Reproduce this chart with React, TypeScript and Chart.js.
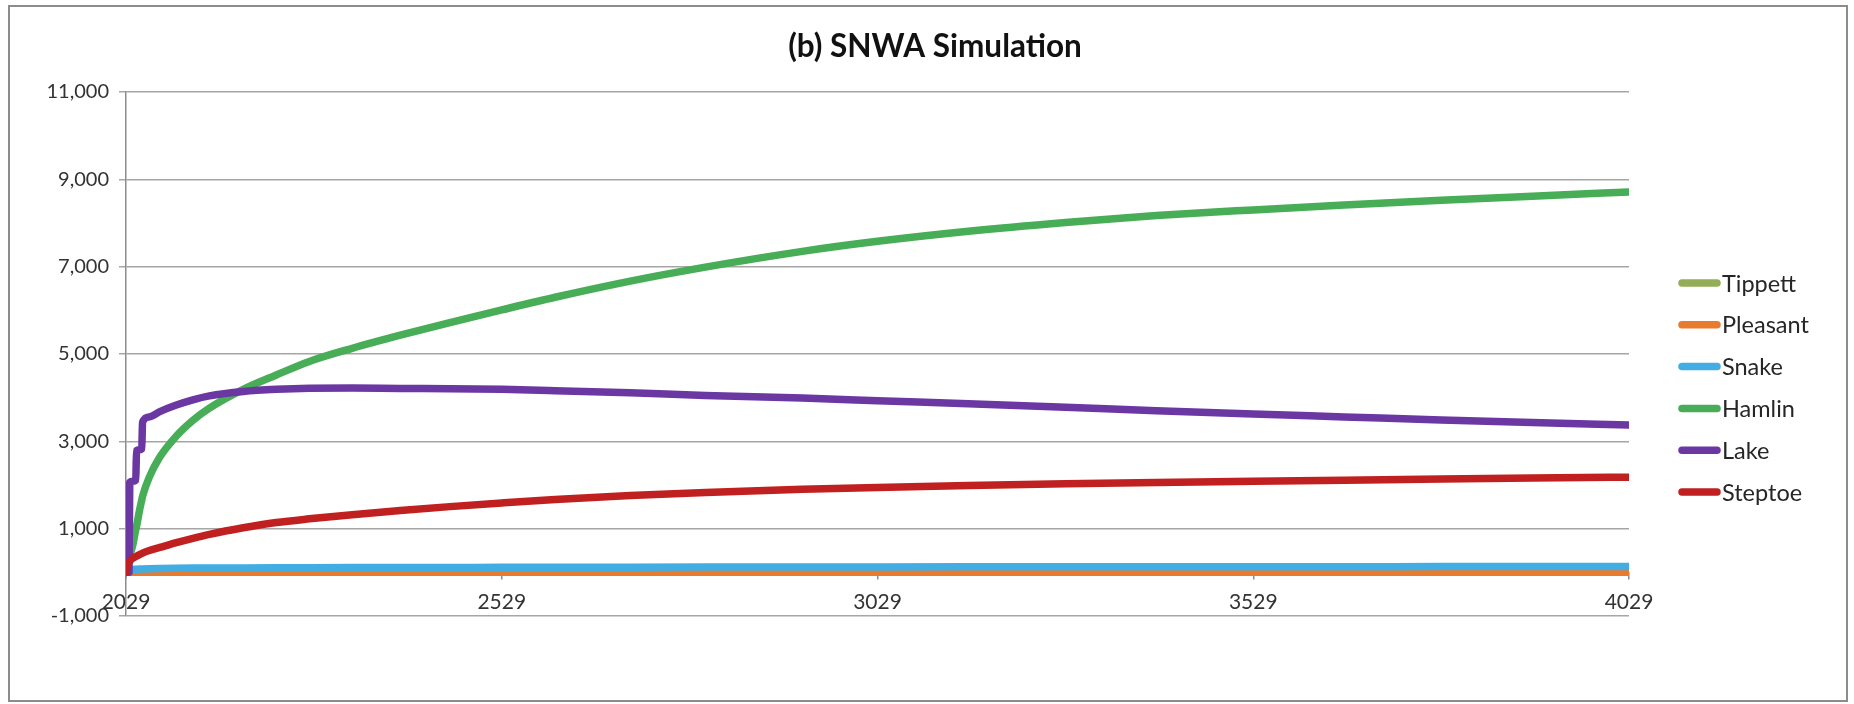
import React, { useEffect, useRef } from 'react';
import { Chart, registerables } from 'chart.js';

Chart.register(...registerables);

// Simulation years (irregular spacing: dense where the curves bend sharply)
const YEARS = [
  2029, 2031, 2033, 2034, 2038, 2042, 2043, 2047, 2050, 2051, 2060, 2074, 2096, 2118, 2140,
  2185, 2229, 2273, 2330, 2394, 2460, 2529, 2600, 2700, 2800, 2929, 3029, 3150, 3279, 3400,
  3529, 3650, 3779, 3900, 4029,
];

const TIPPETT = [
  0, 0, 0, 0, 0, 0, 0, 0, 0, 0, 0, 0, 0, 0, 0,
  0, 0, 0, 0, 0, 0, 0, 0, 0, 0, 0, 0, 0, 0, 0,
  0, 0, 0, 0, 0,
];

const PLEASANT = [
  0, 0, 0, 0, 0, 0, 0, 0, 0, 0, 0, 0, 0, 0, 0,
  0, 0, 0, 0, 0, 0, 0, 0, 0, 0, 0, 0, 0, 0, 0,
  0, 0, 0, 0, 0,
];

const SNAKE = [
  0, 40, 55, 60, 68, 72, 73, 76, 78, 79, 84, 89, 94, 97, 99,
  102, 104, 106, 108, 110, 112, 114, 116, 118, 120, 122, 124, 126, 127, 128,
  129, 130, 131, 132, 133,
];

const HAMLIN = [
  0, 160, 310, 380, 620, 980, 1050, 1420, 1660, 1740, 2180, 2640, 3120, 3480, 3760,
  4190, 4520, 4830, 5130, 5430, 5720, 6010, 6300, 6670, 6990, 7350, 7580, 7810, 8010, 8170,
  8300, 8410, 8520, 8615, 8710,
];

const LAKE = [
  0, 0, 0, 2060, 2085, 2110, 2790, 2810, 2830, 3440, 3560, 3680, 3830, 3950, 4040,
  4140, 4190, 4215, 4220, 4210, 4205, 4190, 4160, 4110, 4050, 3990, 3930, 3860, 3780, 3700,
  3625, 3560, 3490, 3430, 3375,
];

const STEPTOE = [
  0, 150, 230, 255, 320, 360, 370, 405, 430, 440, 500, 570, 680, 780, 870,
  1020, 1140, 1225, 1320, 1415, 1505, 1590, 1670, 1760, 1830, 1900, 1945, 1990, 2030, 2060,
  2085, 2110, 2135, 2158, 2180,
];

const SERIES_NAMES = ['Tippett', 'Pleasant', 'Snake', 'Hamlin', 'Lake', 'Steptoe'];
const SERIES_COLORS = ['#93AE57', '#E97B2E', '#42ADE2', '#47AD56', '#6B37A3', '#C0201F'];

const Y_TICKS = [-1000, 1000, 3000, 5000, 7000, 9000, 11000];
const X_TICKS = [2029, 2529, 3029, 3529, 4029];

const TITLE = '(b) SNWA Simulation';

const FONT = 'Lato, "Open Sans", "DejaVu Sans", sans-serif';
const LINE_WIDTH = 7.5;

export default function App() {
  const canvasRef = useRef<HTMLCanvasElement | null>(null);

  useEffect(() => {
    document.body.style.margin = '0';
    const canvas = canvasRef.current;
    if (!canvas) return;

    const seriesValues = [TIPPETT, PLEASANT, SNAKE, HAMLIN, LAKE, STEPTOE];
    const datasets = SERIES_NAMES.map((name, i) => ({
      label: name,
      data: YEARS.map((yr, k) => ({ x: yr, y: seriesValues[i][k] })),
      borderColor: SERIES_COLORS[i],
      backgroundColor: SERIES_COLORS[i],
      borderWidth: LINE_WIDTH,
      pointRadius: 0,
      pointHoverRadius: 0,
      borderCapStyle: 'round' as const,
      borderJoinStyle: 'round' as const,
      cubicInterpolationMode: 'monotone' as const,
      fill: false,
      // later series sit on top of earlier ones
      order: SERIES_NAMES.length - 1 - i,
    }));

    // White page, centred title and a thin grey frame around the whole chart
    const framePlugin = {
      id: 'frame',
      beforeDraw(chart: any) {
        const { ctx, width, height } = chart;
        ctx.save();
        ctx.fillStyle = '#ffffff';
        ctx.fillRect(0, 0, width, height);
        ctx.restore();
      },
      afterDraw(chart: any) {
        const { ctx } = chart;
        ctx.save();
        ctx.fillStyle = '#111111';
        ctx.font = `bold 31.5px ${FONT}`;
        ctx.textAlign = 'center';
        ctx.textBaseline = 'middle';
        ctx.fillText(TITLE, 935, 47);
        ctx.strokeStyle = '#8c8c8c';
        ctx.lineWidth = 2;
        ctx.strokeRect(9, 6, 1838, 695);
        ctx.restore();
      },
    };

    // Legend on the right: short thick line followed by the series name
    const sideLegend = {
      id: 'sideLegend',
      afterDraw(chart: any) {
        const { ctx } = chart;
        ctx.save();
        chart.data.datasets.forEach((ds: any, i: number) => {
          const y = 283 + i * 41.8;
          ctx.strokeStyle = ds.borderColor;
          ctx.lineWidth = LINE_WIDTH;
          ctx.lineCap = 'round';
          ctx.beginPath();
          ctx.moveTo(1682, y);
          ctx.lineTo(1717, y);
          ctx.stroke();
          ctx.fillStyle = '#262626';
          ctx.font = `23.5px ${FONT}`;
          ctx.textBaseline = 'middle';
          ctx.textAlign = 'left';
          ctx.fillText(ds.label, 1722, y + 1);
        });
        ctx.restore();
      },
    };

    const chart = new Chart(canvas, {
      type: 'line',
      data: { datasets },
      options: {
        responsive: false,
        animation: false,
        devicePixelRatio: 1,
        layout: { padding: { left: 0, right: 225, top: 92, bottom: 88 } },
        plugins: {
          legend: { display: false },
          tooltip: { enabled: false },
          title: { display: false },
        },
        scales: {
          x: {
            type: 'linear',
            min: X_TICKS[0],
            max: X_TICKS[X_TICKS.length - 1],
            position: { y: 0 } as any,
            afterBuildTicks(scale: any) {
              scale.ticks = X_TICKS.map((v) => ({ value: v }));
            },
            ticks: {
              callback: (v: any) => String(v),
              color: '#333333',
              font: { family: FONT, size: 21 },
              padding: 11,
              maxRotation: 0,
              autoSkip: false,
            },
            grid: {
              drawOnChartArea: false,
              drawTicks: true,
              tickLength: 6,
              color: '#8c8c8c',
              lineWidth: 1.5,
            },
            border: { display: true, color: '#8c8c8c', width: 1.5 },
          },
          y: {
            type: 'linear',
            min: Y_TICKS[0],
            max: Y_TICKS[Y_TICKS.length - 1],
            afterBuildTicks(scale: any) {
              scale.ticks = Y_TICKS.map((v) => ({ value: v }));
            },
            afterFit(scale: any) {
              scale.width = 126;
            },
            ticks: {
              callback: (v: any) => Number(v).toLocaleString('en-US'),
              color: '#333333',
              font: { family: FONT, size: 20 },
              padding: 10,
              autoSkip: false,
            },
            grid: {
              color: '#a6a6a6',
              lineWidth: 1.5,
              drawTicks: true,
              tickLength: 7,
            },
            border: { display: true, color: '#8c8c8c', width: 1.5 },
          },
        },
      },
      plugins: [framePlugin, sideLegend],
    } as any);

    return () => chart.destroy();
  }, []);

  return <canvas ref={canvasRef} width={1854} height={704} style={{ display: 'block' }} />;
}
